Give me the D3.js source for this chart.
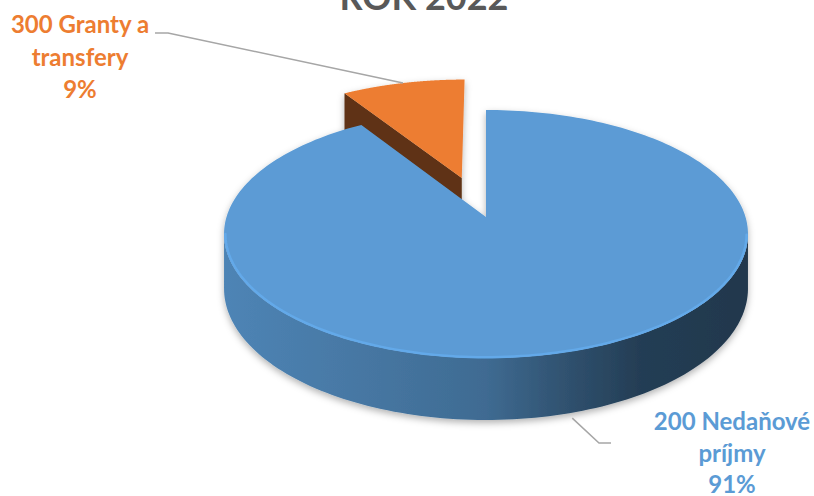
<!DOCTYPE html>
<html>
<head>
<meta charset="utf-8">
<script src="https://cdn.jsdelivr.net/npm/d3@7"></script>
<style>
  body { margin: 0; background: #ffffff; }
  svg { display: block; font-family: Lato, "Open Sans", sans-serif; }
</style>
</head>
<body>
<svg id="chart" width="814" height="496"></svg>
<script>
// chart data
const title = "ROK 2022";
const categories = ["200 Nedaňové príjmy", "300 Granty a transfery"];
const values = [91, 9];
const labelLines = [["200 Nedaňové", "príjmy"], ["300 Granty a", "transfery"]];
const percentLabels = ["91%", "9%"];
const explode = [0, 0.35];

const colors = ["#5b9bd5", "#ed7d31"];

// 3d projection settings (perspective pie)
const CX = 486, CY = 217;      // image of the pie centre
const R = 259.5, S = 121.7;    // horizontal / depth radius
const P = -0.137;              // perspective factor
const H = 53.5;                // thickness
const camB = -1 / P;           // camera position along the depth axis

const svg = d3.select("#chart");
const defs = svg.append("defs");

const shadow = defs.append("filter")
    .attr("id", "shadow")
    .attr("x", "-20%").attr("y", "-20%")
    .attr("width", "140%").attr("height", "140%");
shadow.append("feDropShadow")
    .attr("dx", 0).attr("dy", 3)
    .attr("stdDeviation", 3.5)
    .attr("flood-color", "#000")
    .attr("flood-opacity", 0.3);

const xScale = d3.scaleLinear().domain([-1, 1]).range([-R, R]);
const yScale = d3.scaleLinear().domain([-1, 1]).range([-S, S]);

// disk point -> screen point
function project(a, b, h) {
    const w = 1 + P * b;
    return [CX + xScale(a) / w, CY + yScale(b) / w + H * h / w];
}

function rimPoint(off, theta, r, h) {
    return project(off.a + r * Math.sin(theta), off.b - r * Math.cos(theta), h);
}

const arcs = d3.pie().sort(null).value(d => d)(values);
const line = d3.line();

const slices = arcs.map((d, i) => {
    const mid = (d.startAngle + d.endAngle) / 2;
    const off = { a: explode[i] * Math.sin(mid), b: -explode[i] * Math.cos(mid) };
    return { arc: d, i: i, mid: mid, off: off };
});

// back slices first
slices.sort((p, q) => p.off.b - q.off.b || q.i - p.i);

const pieG = svg.append("g").attr("filter", "url(#shadow)");

slices.forEach(s => {
    const d = s.arc, off = s.off;
    const col = d3.color(colors[s.i]);
    const g = pieG.append("g");

    // cut faces
    [[d.startAngle, -1], [d.endAngle, 1]].forEach(([t, sign]) => {
        const nx = sign * Math.cos(t), ny = sign * Math.sin(t);
        const vx = -off.a, vy = camB - off.b;
        const dot = (nx * vx + ny * vy) / Math.hypot(vx, vy);
        if (dot < 0.05) return;
        const pts = [
            rimPoint(off, t, 0, 0), rimPoint(off, t, 1, 0),
            rimPoint(off, t, 1, 1), rimPoint(off, t, 0, 1)
        ];
        g.append("path")
            .attr("d", line(pts) + "Z")
            .attr("fill", col.darker(2.6));
    });

    // outer rim, only the part facing the camera
    const n = 240;
    let run = [];
    const runs = [];
    for (let k = 0; k <= n; k++) {
        const t = d.startAngle + (d.endAngle - d.startAngle) * k / n;
        const a = off.a + Math.sin(t), b = off.b - Math.cos(t);
        const vis = Math.sin(t) * (0 - a) + (-Math.cos(t)) * (camB - b) > 0;
        if (vis) run.push(t);
        else if (run.length) { runs.push(run); run = []; }
    }
    if (run.length) runs.push(run);

    const grad = defs.append("linearGradient")
        .attr("id", "side" + s.i)
        .attr("gradientUnits", "userSpaceOnUse")
        .attr("x1", CX - R).attr("x2", CX + R)
        .attr("y1", 0).attr("y2", 0);
    [[0, 0.45], [0.5, 1.05], [0.65, 1.8], [0.8, 2.6], [1, 2.85]].forEach(([o, k]) => {
        grad.append("stop").attr("offset", o).attr("stop-color", col.darker(k));
    });

    runs.forEach(r => {
        const top = r.map(t => rimPoint(off, t, 1, 0));
        const bot = r.map(t => rimPoint(off, t, 1, 1)).reverse();
        g.append("path")
            .attr("d", line(top.concat(bot)) + "Z")
            .attr("fill", "url(#side" + s.i + ")");
    });

    // top face
    const topPts = [rimPoint(off, 0, 0, 0)];
    for (let k = 0; k <= n; k++) {
        const t = d.startAngle + (d.endAngle - d.startAngle) * k / n;
        topPts.push(rimPoint(off, t, 1, 0));
    }
    g.append("path")
        .attr("d", line(topPts) + "Z")
        .attr("fill", col);

    // light bevel along the front edge
    runs.forEach(r => {
        g.append("path")
            .attr("d", line(r.map(t => rimPoint(off, t, 0.995, 0))))
            .attr("fill", "none")
            .attr("stroke", col.brighter(0.25))
            .attr("stroke-width", 2.5)
            .attr("stroke-linecap", "round");
    });
});

// title (partly cut off at the top)
svg.append("text")
    .attr("x", 424)
    .attr("y", 10)
    .attr("text-anchor", "middle")
    .attr("font-size", 36)
    .attr("font-weight", 700)
    .attr("fill", "#595959")
    .text(title);

// labels and leader lines
const labelPos = [
    { x: 732, y: 430, lh: 31.5, elbow: [[599, 443], [611, 443]], r: 1.03, h: 1 },
    { x: 80, y: 33, lh: 32.5, elbow: [[168, 33], [155, 33]], r: 1, h: 0 }
];

slices.forEach(s => {
    const lp = labelPos[s.i];
    const start = rimPoint(s.off, s.mid, lp.r, lp.h);
    svg.append("path")
        .attr("d", line([start].concat(lp.elbow)))
        .attr("fill", "none")
        .attr("stroke", "#a6a6a6")
        .attr("stroke-width", 1.5);

    const txt = svg.append("text")
        .attr("text-anchor", "middle")
        .attr("font-size", 24)
        .attr("font-weight", 700)
        .attr("fill", colors[s.i]);
    labelLines[s.i].concat([percentLabels[s.i]]).forEach((t, j) => {
        txt.append("tspan")
            .attr("x", lp.x)
            .attr("y", lp.y + j * lp.lh)
            .text(t);
    });
});
</script>
</body>
</html>
